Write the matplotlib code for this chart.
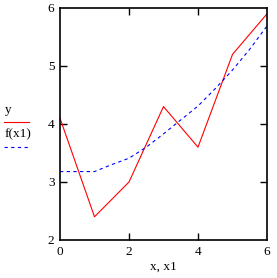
import matplotlib
matplotlib.use("Agg")
import matplotlib.pyplot as plt
from matplotlib.lines import Line2D

x = [0, 1, 2, 3, 4, 5, 6]
y = [4.1, 2.4, 3.0, 4.3, 3.6, 5.2, 5.9]
x1 = [0, 1, 1.5, 2, 2.5, 3, 3.5, 4, 4.5, 5, 5.5, 6]
f_x1 = [3.18, 3.18, 3.30, 3.41, 3.60, 3.83, 4.07, 4.31, 4.61, 4.93, 5.29, 5.69]
xticks = [0, 2, 4, 6]
yticks = [2, 3, 4, 5, 6]

plt.rcParams['font.family'] = ['Liberation Serif', 'DejaVu Serif']

fig = plt.figure(figsize=(2.77, 2.78), dpi=100)
W, H = 277, 278
ax = fig.add_axes([60 / W, 1 - 240 / H, 207 / W, 232 / H])

LW = 0.8
ax.plot(x, y, color='#ff0000', lw=LW)
ax.plot(x1, f_x1, color='#0000ff', lw=LW, dashes=(3, 3))

ax.set_xlim(0, 6)
ax.set_ylim(2, 6)
ax.set_xticks(xticks)
ax.set_yticks(yticks)
ax.set_xticklabels([str(v) for v in xticks], fontsize=9.5)
ax.set_yticklabels([str(v) for v in yticks], fontsize=9.5)
ax.tick_params(direction='in', length=5, width=1.0, top=True, right=True,
               labelsize=9.5, pad=4, colors='black')
# hide ticks at the edges
for t in ax.xaxis.get_major_ticks():
    if t.get_loc() in (0, 6):
        t.tick1line.set_visible(False)
        t.tick2line.set_visible(False)
for t in ax.yaxis.get_major_ticks():
    if t.get_loc() in (2, 6):
        t.tick1line.set_visible(False)
        t.tick2line.set_visible(False)
for s in ax.spines.values():
    s.set_linewidth(1.2)

ax.set_xlabel('x, x1', fontsize=9.5, labelpad=2)

# legend at the left
fig.text(5 / W, 1 - 110 / H, 'y', fontsize=9.5, ha='left', va='center')
fig.add_artist(Line2D([4 / W, 29 / W], [1 - 122 / H, 1 - 122 / H],
                      color='#ff0000', lw=LW))
fig.text(5 / W, 1 - 134 / H, 'f(x1)', fontsize=9.5, ha='left', va='center')
fig.add_artist(Line2D([4 / W, 29 / W], [1 - 147 / H, 1 - 147 / H],
                      color='#0000ff', lw=LW, dashes=(3, 3)))

fig.savefig('out.png', dpi=100)
